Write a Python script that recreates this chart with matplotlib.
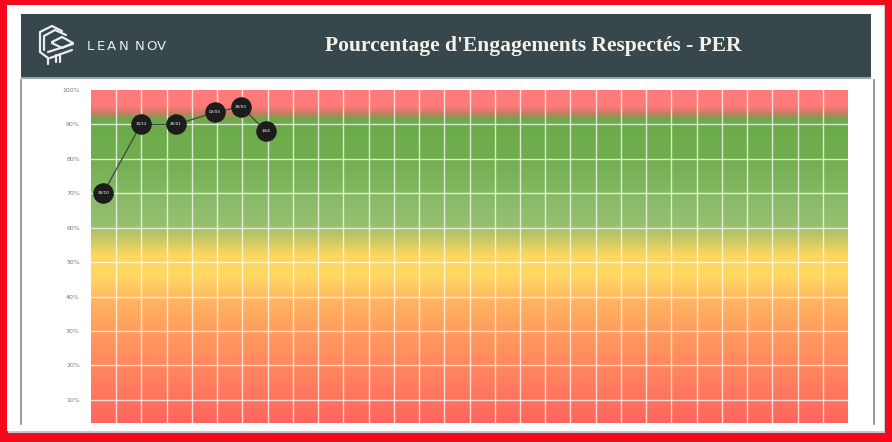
"""Pourcentage d'Engagements Respectés - PER"""
import matplotlib.pyplot as plt
import numpy as np
from matplotlib.colors import LinearSegmentedColormap
from matplotlib.patches import Rectangle
from matplotlib.lines import Line2D

# données
labels = ['30/10', '10/12', '26/01', '02/03', '29/03', '14/4']
x_pos = [0.48, 1.98, 3.37, 4.91, 5.95, 6.94]
per = [0.70, 0.90, 0.90, 0.935, 0.952, 0.88]
y_ticks = [0.1, 0.2, 0.3, 0.4, 0.5, 0.6, 0.7, 0.8, 0.9, 1.0]
y_tick_labels = ['10%', '20%', '30%', '40%', '50%', '60%', '70%', '80%', '90%', '100%']
n_cols = 30

W, H = 892, 442
fig = plt.figure(figsize=(W / 100, H / 100), dpi=100)
fig.patch.set_facecolor('#f4091f')


def px(x0, y0, w, h):
    """rectangle en pixels (origine en haut à gauche) -> fraction de figure"""
    return [x0 / W, 1 - (y0 + h) / H, w / W, h / H]


# cadre blanc + ombre
fig.patches.append(Rectangle((8 / W, 1 - 433 / H), 877 / W, 428 / H, transform=fig.transFigure,
                             facecolor='#c8c8c8', edgecolor='none', zorder=0))
fig.patches.append(Rectangle((7 / W, 1 - 431 / H), 877 / W, 426 / H, transform=fig.transFigure,
                             facecolor='white', edgecolor='none', zorder=0))
# bandeau
fig.patches.append(Rectangle((21 / W, 1 - 77 / H), 850 / W, 63 / H, transform=fig.transFigure,
                             facecolor='#37474b', edgecolor='none', zorder=1))
fig.patches.append(Rectangle((21 / W, 1 - 79 / H), 850 / W, 2 / H, transform=fig.transFigure,
                             facecolor='#9aa3a5', edgecolor='none', zorder=1))
# traits gris latéraux
for xl in (21, 874):
    fig.lines.append(Line2D([xl / W, xl / W], [1 - 424 / H, 1 - 80 / H], transform=fig.transFigure,
                            color='#8a8a8a', lw=1.2))

# logo
logo = [
    [(40, 42), (40, 32), (52, 26), (62, 31)],
    [(44, 50), (44, 36), (55, 30), (66, 35)],
    [(40, 42), (40, 52), (48, 58), (48, 64)],
    [(52, 42), (62, 37), (73, 43), (62, 48), (52, 43)],
    [(48, 52), (73, 44)],
    [(50, 58), (72, 50)],
    [(56, 62), (56, 55)],
    [(60, 62), (60, 54)],
]
for path in logo:
    xs = [p[0] / W for p in path]
    ys = [1 - p[1] / H for p in path]
    fig.lines.append(Line2D(xs, ys, transform=fig.transFigure, color='#e8ecec', lw=1.6,
                            solid_capstyle='round'))
for ch, xl in zip('LEANNOV', [87, 97, 107, 119, 135, 146, 157]):
    fig.text(xl / W, 1 - 47 / H, ch, color='#e8ecec', fontsize=9.5,
             family='DejaVu Sans', va='center', ha='left')
fig.text(533 / W, 1 - 46 / H, "Pourcentage d'Engagements Respectés - PER", color='#f6f2ea',
         fontsize=15.5, family='Liberation Serif', weight='bold', va='center', ha='center')

# graphique
ax = fig.add_axes(px(91, 90, 757, 333))
ax.set_zorder(5)
y_min, y_max = 0.033, 1.0
stops = [
    (0.0, '#ff5e5e'), (0.15, '#ff7e5e'), (0.28, '#ff985e'), (0.38, '#ffb260'),
    (0.46, '#ffd862'), (0.52, '#ffd65e'), (0.57, '#c5c866'), (0.61, '#96c06e'),
    (0.66, '#8dbd6c'), (0.80, '#72ae50'), (0.915, '#6aaa48'), (0.935, '#c08060'),
    (0.955, '#ff7b7b'), (1.0, '#ff7b7b'),
]
cmap = LinearSegmentedColormap.from_list('per', stops)
grad = np.linspace(y_min, y_max, 400).reshape(-1, 1)
ax.imshow(grad, cmap=cmap, vmin=0, vmax=1, origin='lower', aspect='auto',
          extent=[0, n_cols, y_min, y_max], zorder=0)

for xv in range(1, n_cols):
    ax.axvline(xv, color='white', lw=1.0, alpha=0.75, zorder=1)
for yv in y_ticks[:-1]:
    ax.axhline(yv, color='white', lw=1.0, alpha=0.75, zorder=1)

ax.plot(x_pos, per, color='#444444', lw=0.9, zorder=2)
ax.scatter(x_pos, per, s=190, color='#1c1c1c', zorder=3)
for xv, yv, lab in zip(x_pos, per, labels):
    ax.text(xv, yv, lab, color='white', fontsize=3, ha='center', va='center', zorder=4)

ax.set_xlim(0, n_cols)
ax.set_ylim(y_min, y_max)
ax.set_yticks(y_ticks)
ax.set_yticklabels(y_tick_labels, fontsize=4.5, color='#7a7a7a')
ax.set_xticks([])
ax.tick_params(axis='y', length=0, pad=8)
for s in ax.spines.values():
    s.set_visible(False)

fig.savefig('out.png', dpi=100, facecolor=fig.get_facecolor())
